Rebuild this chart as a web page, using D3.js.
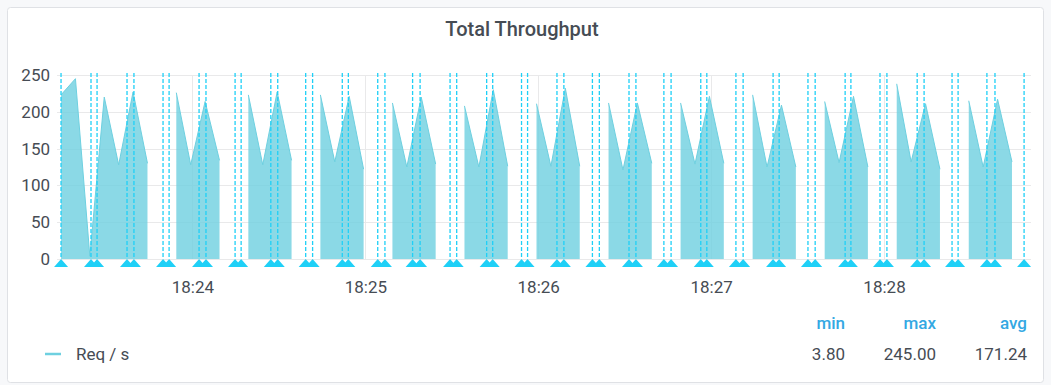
<!DOCTYPE html>
<html>
<head>
<meta charset="utf-8">
<script src="https://cdn.jsdelivr.net/npm/d3@7"></script>
<style>
  html, body { margin: 0; padding: 0; background: #f7f8fa; }
  #graphicContainer { width: 1051px; height: 385px; }
  text { font-family: Roboto, 'Noto Sans', sans-serif; }
</style>
</head>
<body>
<div id="graphicContainer"></div>
<script>
const container = d3.select('#graphicContainer');

const Width = 1051, Height = 385;
const Plot = { l: 57, r: 1031, t: 75, b: 259 };

// series: one point every 5 s, null = gap
const seriesStart = new Date(2019, 0, 1, 18, 23, 14, 400);
const stepSec = 5;
const reqValues = [
  223, 245, 3.8, 220, 128, 227, 130, null,
  226, 128, 214, 134, null,
  223, 128, 227, 134, null,
  223, 132, 221, 122, null,
  212, 125, 220, 129, null,
  208, 125, 230, 126, null,
  211, 126, 232, 126, null,
  212, 121, 212, 130, null,
  212, 129, 221, 130, null,
  223, 125, 209, 125, null,
  214, 131, 221, 125, null,
  238, 132, 211, 122, null,
  215, 125, 217, 132
];

// annotation marks, seconds after 18:23:00
const annotationSec = [
  14.4, 24.8, 26.9, 37.3, 39.7, 49.8, 51.9, 62.3, 64.7, 74.8, 76.9,
  87.2, 89.6, 99.3, 101.7, 112.0, 114.1, 124.3, 126.8, 136.4, 139.0,
  149.4, 151.7, 162.1, 164.2, 174.2, 176.3, 186.5, 188.9, 198.8, 201.2,
  211.5, 213.9, 223.6, 226.1, 236.4, 238.5, 248.6, 251.1, 261.5, 263.6,
  273.6, 276.1, 286.5, 288.5, 298.6, 301.0, 311.5, 313.9, 323.6, 325.7,
  335.7, 338.5, 348.6
];

const yTicks = [0, 50, 100, 150, 200, 250];
const legendHeads = ['min', 'max', 'avg'];
const legendValues = ['3.80', '245.00', '171.24'];
const seriesName = 'Req / s';

const mainColor = '#6ed0e0';
const annoColor = '#1fd0f7';
const textColor = '#464c54';
const gridColor = '#e9e9ea';

const baseMinute = new Date(2019, 0, 1, 18, 23, 0);
const data = reqValues.map((v, i) => ({
  t: new Date(seriesStart.getTime() + i * stepSec * 1000),
  v: v
}));
const annotations = annotationSec.map(s => new Date(baseMinute.getTime() + s * 1000));

const x = d3.scaleTime()
  .domain([new Date(2019, 0, 1, 18, 23, 13), new Date(2019, 0, 1, 18, 28, 51)])
  .range([Plot.l, Plot.r]);
const y = d3.scaleLinear()
  .domain([0, 250])
  .range([Plot.b, Plot.t]);

const svg = container.append('svg')
  .attr('width', Width)
  .attr('height', Height);

// panel
svg.append('rect')
  .attr('x', 7.5).attr('y', 7.5)
  .attr('width', 1036).attr('height', 375)
  .attr('rx', 3)
  .attr('fill', '#fff')
  .attr('stroke', '#dfe1e5');

svg.append('text')
  .attr('x', 522).attr('y', 36)
  .attr('text-anchor', 'middle')
  .attr('font-size', 20)
  .attr('font-weight', 500)
  .attr('fill', textColor)
  .text('Total Throughput');

// grid
const gridG = svg.append('g').attr('class', 'grid');
gridG.selectAll('.hGrid')
  .data(yTicks)
  .enter().append('line')
  .attr('class', 'hGrid')
  .attr('x1', Plot.l).attr('x2', Plot.r)
  .attr('y1', d => Math.round(y(d)) + 0.5)
  .attr('y2', d => Math.round(y(d)) + 0.5)
  .attr('stroke', gridColor);

const xTicks = x.ticks(d3.timeMinute.every(1));
gridG.selectAll('.vGrid')
  .data(xTicks)
  .enter().append('line')
  .attr('class', 'vGrid')
  .attr('x1', d => Math.round(x(d)) + 0.5)
  .attr('x2', d => Math.round(x(d)) + 0.5)
  .attr('y1', Plot.t).attr('y2', Plot.b)
  .attr('stroke', gridColor);

// axes (labels only)
const yAxis = svg.append('g')
  .attr('class', 'yAxis')
  .attr('transform', `translate(${Plot.l}, 0)`)
  .call(d3.axisLeft(y).tickValues(yTicks).tickSize(0).tickPadding(7));
const xAxis = svg.append('g')
  .attr('class', 'xAxis')
  .attr('transform', `translate(0, ${Plot.b})`)
  .call(d3.axisBottom(x).ticks(d3.timeMinute.every(1)).tickFormat(d3.timeFormat('%H:%M')).tickSize(0).tickPadding(22));
svg.selectAll('.yAxis .domain, .xAxis .domain').remove();
svg.selectAll('.yAxis text, .xAxis text')
  .attr('font-family', 'Roboto, sans-serif')
  .attr('font-size', 17)
  .attr('fill', textColor);

// series
const area = d3.area()
  .defined(d => d.v !== null)
  .x(d => x(d.t))
  .y0(y(0))
  .y1(d => y(d.v));
const line = d3.line()
  .defined(d => d.v !== null)
  .x(d => x(d.t))
  .y(d => y(d.v));

svg.append('path')
  .datum(data)
  .attr('d', area)
  .attr('fill', mainColor)
  .attr('fill-opacity', 0.8);
svg.append('path')
  .datum(data)
  .attr('d', line)
  .attr('fill', 'none')
  .attr('stroke', mainColor)
  .attr('stroke-width', 1);

// annotations
const annoG = svg.append('g').attr('class', 'annotations');
annoG.selectAll('.annoLine')
  .data(annotations)
  .enter().append('line')
  .attr('class', 'annoLine')
  .attr('x1', d => x(d)).attr('x2', d => x(d))
  .attr('y1', Plot.t - 2).attr('y2', Plot.b)
  .attr('stroke', annoColor)
  .attr('stroke-width', 1.3)
  .attr('stroke-dasharray', '4 2');
annoG.selectAll('.annoMark')
  .data(annotations)
  .enter().append('path')
  .attr('class', 'annoMark')
  .attr('d', d => `M${x(d)},${Plot.b} L${x(d) - 7},${Plot.b + 8} L${x(d) + 7},${Plot.b + 8} Z`)
  .attr('fill', annoColor);

// legend
const legendG = svg.append('g').attr('class', 'legend');
legendG.append('line')
  .attr('x1', 45).attr('x2', 61)
  .attr('y1', 354).attr('y2', 354)
  .attr('stroke', mainColor)
  .attr('stroke-width', 2.5);
legendG.append('text')
  .attr('x', 76).attr('y', 360)
  .attr('font-size', 17)
  .attr('fill', textColor)
  .text(seriesName);

const colRight = [845, 936, 1027];
legendG.selectAll('.legendHead')
  .data(legendHeads)
  .enter().append('text')
  .attr('class', 'legendHead')
  .attr('x', (d, i) => colRight[i])
  .attr('y', 329)
  .attr('text-anchor', 'end')
  .attr('font-size', 17)
  .attr('font-weight', 500)
  .attr('fill', '#33a8e3')
  .text(d => d);
legendG.selectAll('.legendVal')
  .data(legendValues)
  .enter().append('text')
  .attr('class', 'legendVal')
  .attr('x', (d, i) => colRight[i])
  .attr('y', 360)
  .attr('text-anchor', 'end')
  .attr('font-size', 17)
  .attr('fill', textColor)
  .text(d => d);
</script>
</body>
</html>
